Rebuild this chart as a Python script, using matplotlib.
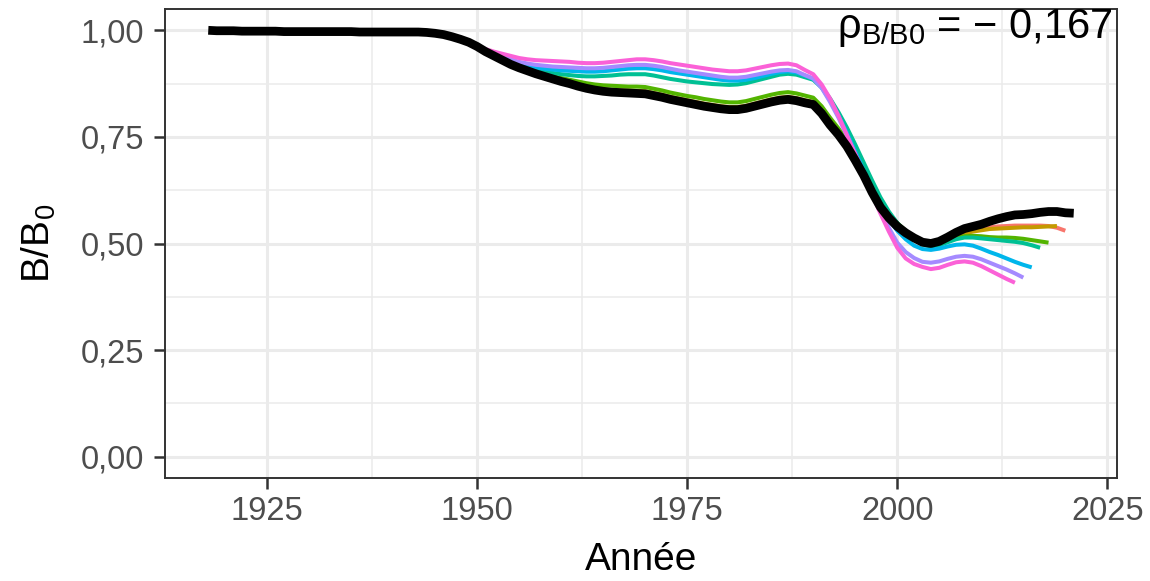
import numpy as np
import matplotlib
matplotlib.use("Agg")
import matplotlib.pyplot as plt

plt.rcParams['font.family'] = ['Liberation Sans', 'DejaVu Sans']
plt.rcParams['mathtext.fontset'] = 'custom'
plt.rcParams['mathtext.rm'] = 'Liberation Sans'
plt.rcParams['mathtext.it'] = 'Liberation Sans:italic'

# --- data -------------------------------------------------------------
BASE_START = 1918
base_bb0 = [
    1.000, 0.999,
    0.999, 0.999, 0.998, 0.998, 0.998, 0.998, 0.998, 0.997, 0.997, 0.997,
    0.997, 0.997, 0.997, 0.997, 0.997, 0.997, 0.996, 0.996, 0.996, 0.996,
    0.996, 0.996, 0.996, 0.996, 0.995, 0.993, 0.990, 0.985, 0.979, 0.972,
    0.962, 0.950, 0.940, 0.930, 0.920, 0.912, 0.905, 0.898, 0.892, 0.886,
    0.880, 0.875, 0.869, 0.864, 0.860, 0.857, 0.855, 0.854, 0.853, 0.852,
    0.851, 0.847, 0.843, 0.838, 0.834, 0.830, 0.826, 0.822, 0.819, 0.816,
    0.814, 0.814, 0.817, 0.822, 0.827, 0.832, 0.836, 0.838, 0.835, 0.830,
    0.826, 0.805, 0.778, 0.755, 0.728, 0.695, 0.660, 0.620, 0.585, 0.560,
    0.540, 0.525, 0.513, 0.503, 0.500, 0.505, 0.515, 0.526, 0.535, 0.540,
    0.545, 0.552, 0.558, 0.563, 0.567, 0.568, 0.570, 0.573, 0.575, 0.575,
    0.572, 0.571,
]

# retrospective peels (values from 1948, earlier years are hidden under the base run)
PEEL_START = 1948
peel_end = [2020, 2019, 2018, 2017, 2016, 2015, 2014]
peel_colors = ['#F8766D', '#C49A00', '#53B400', '#00C094', '#00B6EB', '#A58AFF', '#FB61D7']

peel_2020 = [
    0.979, 0.972,
    0.962, 0.950, 0.939, 0.930, 0.920, 0.912, 0.905, 0.899, 0.893, 0.887,
    0.881, 0.876, 0.871, 0.866, 0.863, 0.860, 0.858, 0.857, 0.857, 0.856,
    0.855, 0.851, 0.847, 0.842, 0.838, 0.834, 0.830, 0.826, 0.823, 0.820,
    0.818, 0.818, 0.821, 0.826, 0.831, 0.836, 0.840, 0.842, 0.839, 0.834,
    0.830, 0.809, 0.782, 0.758, 0.731, 0.698, 0.662, 0.622, 0.587, 0.561,
    0.541, 0.526, 0.513, 0.504, 0.501, 0.505, 0.513, 0.522, 0.528, 0.532,
    0.535, 0.538, 0.540, 0.541, 0.542, 0.542, 0.542, 0.542, 0.541, 0.537,
    0.530,
]
peel_2019 = [
    0.979, 0.972,
    0.962, 0.950, 0.940, 0.931, 0.921, 0.913, 0.906, 0.900, 0.894, 0.888,
    0.883, 0.878, 0.873, 0.868, 0.865, 0.862, 0.860, 0.859, 0.859, 0.858,
    0.857, 0.853, 0.849, 0.844, 0.840, 0.836, 0.832, 0.828, 0.825, 0.822,
    0.820, 0.820, 0.823, 0.828, 0.833, 0.838, 0.842, 0.844, 0.841, 0.836,
    0.832, 0.811, 0.784, 0.760, 0.733, 0.700, 0.664, 0.624, 0.589, 0.563,
    0.542, 0.527, 0.514, 0.504, 0.500, 0.503, 0.510, 0.518, 0.524, 0.528,
    0.531, 0.534, 0.535, 0.536, 0.537, 0.538, 0.538, 0.539, 0.540, 0.541,
]
peel_2018 = [
    0.979, 0.972,
    0.962, 0.951, 0.941, 0.932, 0.923, 0.915, 0.909, 0.903, 0.897, 0.892,
    0.888, 0.884, 0.880, 0.876, 0.873, 0.871, 0.870, 0.869, 0.868, 0.868,
    0.867, 0.863, 0.859, 0.854, 0.850, 0.846, 0.843, 0.839, 0.836, 0.833,
    0.831, 0.831, 0.834, 0.839, 0.844, 0.849, 0.853, 0.855, 0.852, 0.847,
    0.842, 0.822, 0.795, 0.770, 0.742, 0.708, 0.672, 0.632, 0.597, 0.570,
    0.548, 0.530, 0.515, 0.504, 0.499, 0.500, 0.506, 0.513, 0.517, 0.518,
    0.517, 0.515, 0.514, 0.514, 0.513, 0.511, 0.508, 0.505, 0.502,
]
peel_2017 = [
    0.979, 0.972,
    0.962, 0.952, 0.942, 0.934, 0.926, 0.919, 0.913, 0.908, 0.904, 0.900,
    0.897, 0.895, 0.893, 0.892, 0.892, 0.893, 0.894, 0.896, 0.897, 0.897,
    0.897, 0.894, 0.890, 0.886, 0.883, 0.880, 0.878, 0.876, 0.874, 0.873,
    0.872, 0.873, 0.876, 0.881, 0.886, 0.891, 0.896, 0.898, 0.896, 0.890,
    0.884, 0.866, 0.840, 0.808, 0.772, 0.732, 0.690, 0.648, 0.608, 0.575,
    0.548, 0.527, 0.510, 0.498, 0.493, 0.496, 0.503, 0.510, 0.514, 0.514,
    0.512, 0.510, 0.508, 0.506, 0.504, 0.501, 0.496, 0.490,
]
peel_2016 = [
    0.979, 0.973,
    0.963, 0.953, 0.944, 0.936, 0.929, 0.922, 0.917, 0.913, 0.910, 0.908,
    0.906, 0.905, 0.904, 0.903, 0.903, 0.904, 0.906, 0.908, 0.910, 0.911,
    0.911, 0.909, 0.906, 0.902, 0.899, 0.896, 0.893, 0.890, 0.887, 0.884,
    0.882, 0.882, 0.884, 0.888, 0.893, 0.898, 0.902, 0.904, 0.901, 0.894,
    0.886, 0.866, 0.836, 0.800, 0.760, 0.716, 0.672, 0.628, 0.590, 0.557,
    0.530, 0.510, 0.495, 0.487, 0.485, 0.488, 0.493, 0.497, 0.498, 0.495,
    0.488, 0.480, 0.473, 0.465, 0.457, 0.450, 0.444,
]
peel_2015 = [
    0.979, 0.973,
    0.963, 0.954, 0.946, 0.939, 0.932, 0.926, 0.922, 0.919, 0.917, 0.915,
    0.914, 0.913, 0.912, 0.911, 0.911, 0.912, 0.914, 0.916, 0.918, 0.919,
    0.919, 0.917, 0.914, 0.910, 0.906, 0.903, 0.900, 0.897, 0.894, 0.891,
    0.889, 0.889, 0.891, 0.895, 0.899, 0.903, 0.906, 0.907, 0.904, 0.895,
    0.887, 0.865, 0.832, 0.795, 0.753, 0.708, 0.663, 0.617, 0.574, 0.537,
    0.502, 0.480, 0.466, 0.457, 0.455, 0.458, 0.464, 0.469, 0.471, 0.469,
    0.463, 0.455, 0.447, 0.439, 0.430, 0.420,
]
peel_2014 = [
    0.979, 0.973,
    0.964, 0.956, 0.950, 0.945, 0.940, 0.935, 0.932, 0.930, 0.929, 0.928,
    0.927, 0.926, 0.924, 0.923, 0.923, 0.924, 0.926, 0.928, 0.930, 0.932,
    0.932, 0.930, 0.927, 0.923, 0.920, 0.917, 0.914, 0.911, 0.908, 0.906,
    0.904, 0.904, 0.906, 0.910, 0.914, 0.918, 0.921, 0.922, 0.918, 0.907,
    0.897, 0.873, 0.840, 0.800, 0.755, 0.710, 0.665, 0.615, 0.570, 0.528,
    0.490, 0.465, 0.452, 0.445, 0.440, 0.443, 0.450, 0.456, 0.458, 0.455,
    0.447, 0.437, 0.427, 0.417, 0.408,
]
peels = [peel_2020, peel_2019, peel_2018, peel_2017, peel_2016, peel_2015, peel_2014]

ytick_vals = [0.00, 0.25, 0.50, 0.75, 1.00]
ytick_labels = ['0,00', '0,25', '0,50', '0,75', '1,00']
xtick_vals = [1925, 1950, 1975, 2000, 2025]
rho_label = r'ρ$_{\mathrm{B/B0}}$ = − 0,167'

# --- figure -----------------------------------------------------------
W, H = 1150, 581
fig = plt.figure(figsize=(W / 100, H / 100), dpi=100)
ax = fig.add_axes([165 / W, 1 - 478 / H, (1117 - 165) / W, (478 - 9) / H])

for vals, end, col in zip(peels, peel_end, peel_colors):
    yrs = np.arange(PEEL_START, end + 1)
    ax.plot(yrs, vals, color=col, lw=2.9, solid_capstyle='butt', zorder=3)

base_years = np.arange(BASE_START, BASE_START + len(base_bb0))
ax.plot(base_years, base_bb0, color='black', lw=6.3, solid_capstyle='butt', zorder=4)

span = base_years[-1] - base_years[0]
ax.set_xlim(base_years[0] - 0.05 * span, base_years[-1] + 0.05 * span)
ax.set_ylim(-0.05, 1.05)

ax.set_xticks(xtick_vals)
ax.set_xticks([1937.5, 1962.5, 1987.5, 2012.5], minor=True)
ax.set_yticks(ytick_vals, ytick_labels)
ax.set_yticks([0.125, 0.375, 0.625, 0.875], minor=True)

ax.grid(which='major', color='#EBEBEB', lw=2.2, zorder=0)
ax.grid(which='minor', color='#EBEBEB', lw=1.1, zorder=0)
ax.set_axisbelow(True)

for s in ax.spines.values():
    s.set_color('#333333')
    s.set_linewidth(1.4)

ax.tick_params(which='major', length=8, width=1.8, color='#333333',
               labelsize=23.5, labelcolor='#4D4D4D', pad=5)
ax.tick_params(which='minor', length=0)
ax.tick_params(axis='y', pad=7)

ax.set_xlabel('Année', fontsize=28, labelpad=11)
ax.set_ylabel(r'B/B$_{\mathrm{0}}$', fontsize=28, labelpad=16)

ax.text(0.996, 0.939, rho_label, transform=ax.transAxes, ha='right',
        va='baseline', fontsize=30, zorder=5)

plt.savefig('out.png', dpi=100)
